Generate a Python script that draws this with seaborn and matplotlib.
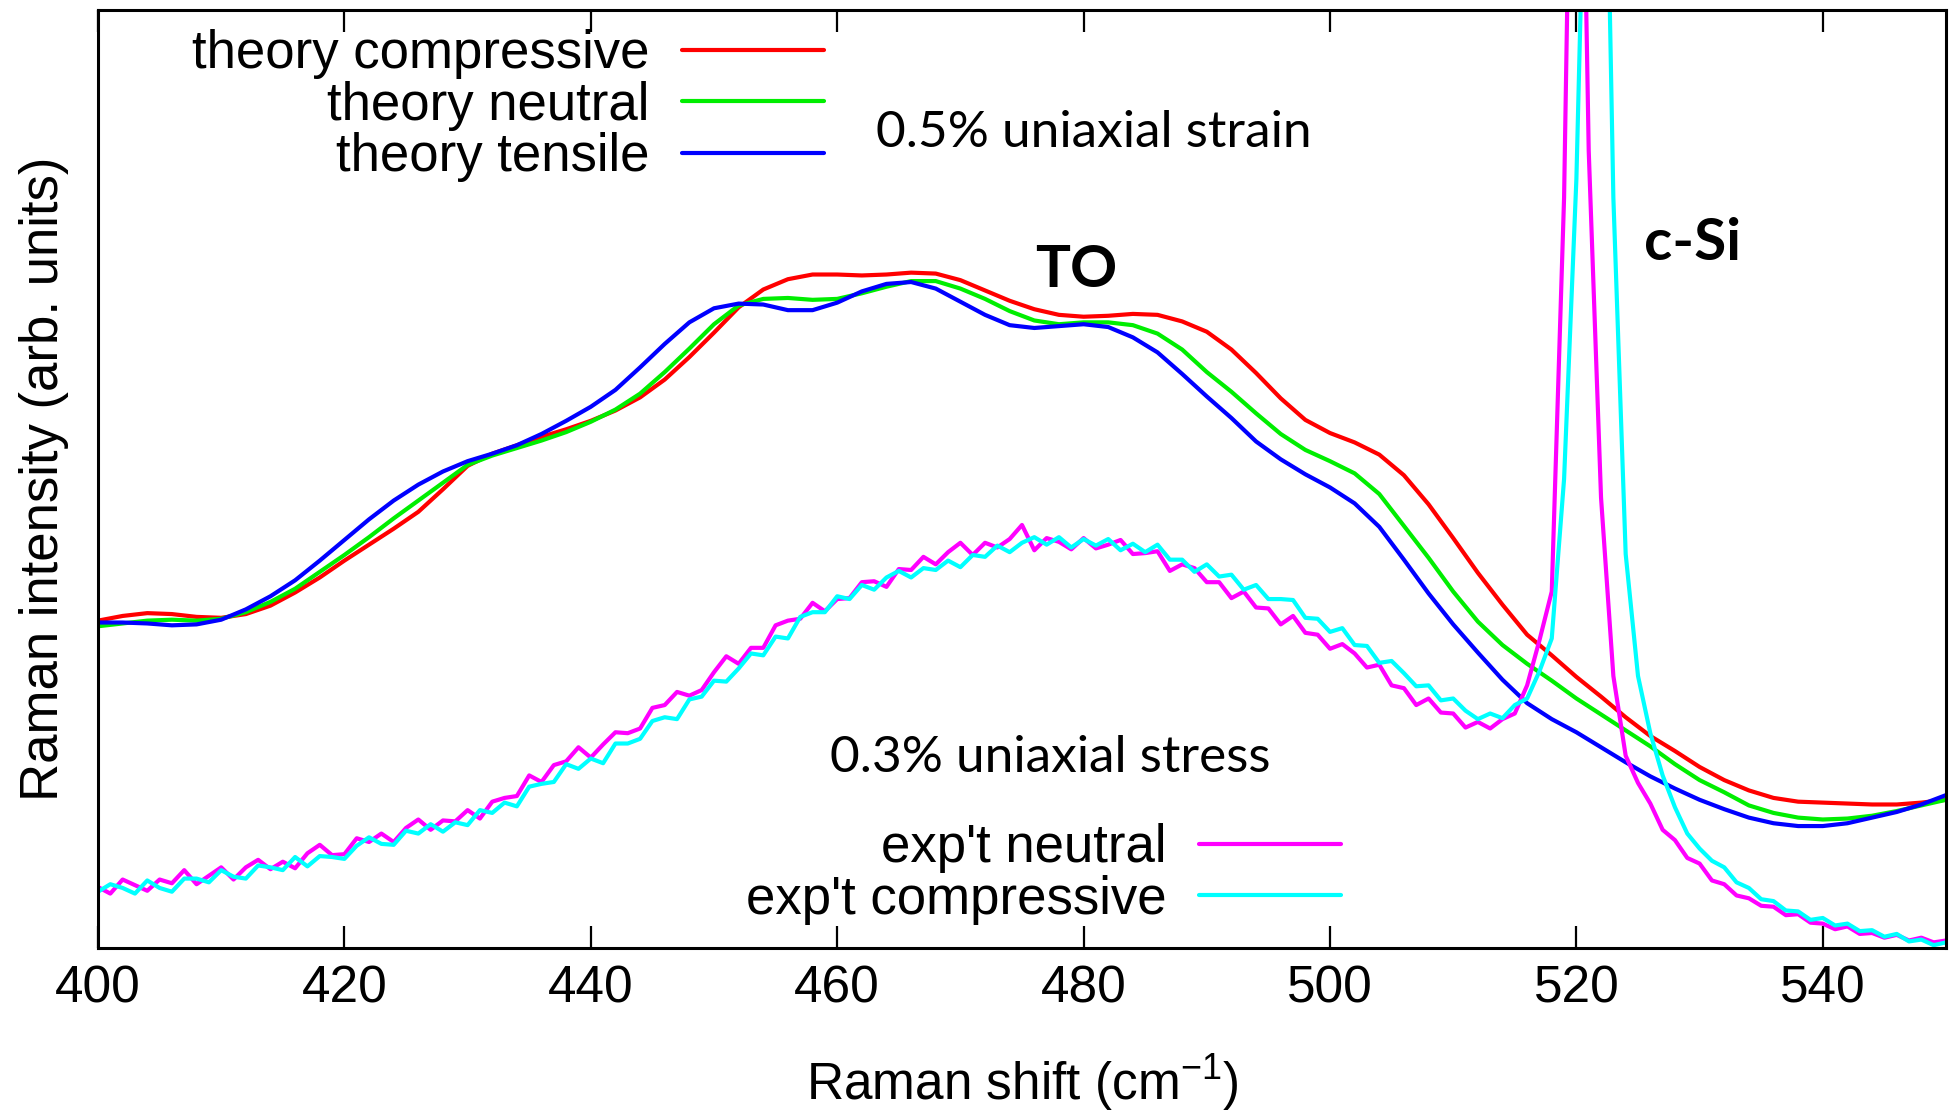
import matplotlib
matplotlib.use("Agg")
import matplotlib.pyplot as plt
import seaborn as sns
import pandas as pd
from matplotlib.lines import Line2D

# ---------------- data ----------------
theory_x = list(range(400, 551, 2))
theory_compressive = [34.9, 35.4, 35.7, 35.6, 35.3, 35.2, 35.6, 36.5, 37.9, 39.5,
                      41.3, 43.0, 44.7, 46.5, 48.9, 51.4, 52.7, 53.6, 54.5, 55.3,
                      56.2, 57.3, 58.7, 60.6, 63.0, 65.6, 68.3, 70.2, 71.3, 71.8,
                      71.8, 71.7, 71.8, 72.0, 71.9, 71.2, 70.1, 69.0, 68.1, 67.5,
                      67.3, 67.4, 67.6, 67.5, 66.8, 65.7, 63.8, 61.3, 58.6, 56.3,
                      54.9, 53.9, 52.6, 50.4, 47.3, 43.7, 40.0, 36.6, 33.4, 31.2,
                      28.9, 26.8, 24.6, 22.6, 21.0, 19.3, 17.9, 16.8, 16.0, 15.6,
                      15.5, 15.4, 15.3, 15.3, 15.5, 15.8]
theory_neutral = [34.3, 34.6, 34.9, 35.0, 34.9, 35.1, 35.8, 36.9, 38.3, 40.1,
                  41.9, 43.8, 45.8, 47.7, 49.6, 51.5, 52.5, 53.3, 54.1, 55.0,
                  56.1, 57.4, 59.1, 61.4, 63.9, 66.5, 68.5, 69.2, 69.3, 69.1,
                  69.2, 69.8, 70.5, 71.1, 71.1, 70.3, 69.2, 67.9, 66.9, 66.5,
                  66.7, 66.7, 66.4, 65.5, 63.8, 61.4, 59.3, 57.0, 54.8, 53.1,
                  51.9, 50.6, 48.4, 45.0, 41.6, 38.0, 34.8, 32.3, 30.3, 28.5,
                  26.6, 24.9, 23.2, 21.5, 19.6, 17.9, 16.6, 15.2, 14.4, 13.9,
                  13.7, 13.8, 14.1, 14.6, 15.2, 15.8]
theory_tensile = [34.7, 34.7, 34.6, 34.4, 34.5, 35.0, 36.1, 37.5, 39.2, 41.3,
                  43.5, 45.7, 47.7, 49.4, 50.8, 51.9, 52.7, 53.6, 54.8, 56.2,
                  57.7, 59.5, 61.9, 64.4, 66.7, 68.2, 68.7, 68.6, 68.0, 68.0,
                  68.8, 70.0, 70.8, 71.0, 70.3, 68.9, 67.5, 66.4, 66.1, 66.3,
                  66.5, 66.2, 65.1, 63.5, 61.2, 58.8, 56.5, 54.0, 52.1, 50.5,
                  49.1, 47.4, 44.9, 41.4, 37.8, 34.5, 31.5, 28.6, 26.1, 24.4,
                  23.0, 21.4, 19.8, 18.3, 17.0, 15.8, 14.8, 13.9, 13.3, 13.0,
                  13.0, 13.3, 13.9, 14.5, 15.3, 16.3]

exp_x = list(range(400, 551))
exp_neutral = [6.5, 5.8, 7.3, 6.7, 6.1, 7.3, 6.9, 8.3, 6.8, 7.7,
               8.6, 7.3, 8.6, 9.4, 8.4, 9.2, 8.5, 10.1, 11.0, 9.9,
               10.0, 11.7, 11.3, 12.2, 11.3, 12.8, 13.7, 12.6, 13.6, 13.5,
               14.7, 13.8, 15.6, 16.0, 16.2, 18.4, 17.7, 19.5, 19.9, 21.4,
               20.3, 21.7, 23.0, 22.9, 23.4, 25.6, 25.9, 27.3, 26.9, 27.5,
               29.4, 31.1, 30.3, 32.0, 32.0, 34.4, 34.9, 35.1, 36.8, 35.9,
               37.2, 37.3, 39.0, 39.1, 38.5, 40.4, 40.3, 41.7, 40.9, 42.2,
               43.2, 41.9, 43.2, 42.7, 43.6, 45.1, 42.4, 43.7, 43.3, 42.5,
               43.7, 42.6, 43.0, 43.5, 42.0, 42.1, 42.3, 40.2, 40.9, 40.5,
               39.0, 39.0, 37.3, 38.0, 36.3, 36.2, 34.5, 35.4, 33.6, 33.4,
               31.9, 32.4, 31.4, 29.9, 30.2, 28.0, 27.7, 25.9, 26.6, 25.1,
               25.0, 23.5, 24.1, 23.4, 24.4, 25.0, 28.0, 32.8, 38.0, 80.0,
               160.0, 85.0, 48.0, 29.0, 20.5, 17.6, 15.4, 12.6, 11.5, 9.6,
               9.0, 7.2, 6.8, 5.6, 5.3, 4.5, 4.4, 3.5, 3.6, 2.7,
               2.6, 2.0, 2.3, 1.5, 1.6, 1.1, 1.4, 0.8, 1.1, 0.6,
               0.8]
exp_compressive = [6.0, 6.8, 6.4, 5.8, 7.2, 6.4, 6.0, 7.4, 7.4, 7.0,
                   8.3, 7.6, 7.4, 8.8, 8.6, 8.3, 9.7, 8.7, 9.8, 9.7,
                   9.5, 10.9, 11.8, 11.1, 11.0, 12.5, 12.2, 13.2, 12.4, 13.4,
                   13.1, 14.7, 14.4, 15.5, 15.1, 17.2, 17.5, 17.7, 19.6, 19.1,
                   20.2, 19.7, 21.8, 21.8, 22.3, 24.2, 24.6, 24.4, 26.5, 26.8,
                   28.5, 28.4, 29.8, 31.4, 31.2, 33.2, 33.0, 35.3, 35.8, 35.8,
                   37.5, 37.2, 38.7, 38.2, 39.5, 40.2, 39.5, 40.5, 40.3, 41.3,
                   40.6, 41.9, 41.7, 42.9, 42.2, 43.2, 43.8, 43.0, 43.8, 42.7,
                   43.6, 42.9, 43.6, 42.4, 43.1, 42.2, 43.0, 41.4, 41.4, 40.1,
                   40.9, 39.6, 39.8, 38.2, 38.7, 37.2, 37.2, 37.1, 35.2, 35.1,
                   33.7, 34.1, 32.3, 32.2, 30.4, 30.6, 29.3, 27.9, 28.0, 26.4,
                   26.6, 25.3, 24.4, 25.0, 24.5, 25.9, 26.6, 29.5, 33.0, 50.0,
                   82.0, 135.0, 150.0, 80.0, 42.0, 29.0, 22.9, 18.4, 15.0, 12.2,
                   10.6, 9.3, 8.6, 7.0, 6.4, 5.2, 5.0, 4.0, 3.9, 3.0,
                   3.2, 2.4, 2.6, 1.8, 1.9, 1.2, 1.5, 0.7, 0.9, 0.3,
                   0.6]

x_ticks = [400, 420, 440, 460, 480, 500, 520, 540]
theory_labels = ["theory compressive", "theory neutral", "theory tensile"]
exp_labels = ["exp't neutral", "exp't compressive"]
theory_colors = ["#ff0000", "#00ee00", "#0000ff"]
exp_colors = ["#ff00ff", "#00ffff"]

# ---------------- style ----------------
sns.set_theme(style="white")
plt.rcParams["font.family"] = ["Liberation Sans", "DejaVu Sans"]
plt.rcParams["mathtext.fontset"] = "custom"
plt.rcParams["mathtext.rm"] = "Liberation Sans"
plt.rcParams["mathtext.it"] = "Liberation Sans"
for k in ["text.color", "axes.labelcolor", "xtick.color", "ytick.color", "axes.edgecolor"]:
    plt.rcParams[k] = "black"
annot_font = ["Lato", "DejaVu Sans"]

W, H = 1959, 1112
fig = plt.figure(figsize=(W / 100, H / 100), dpi=100)
ax = fig.add_axes([98 / W, 1 - 948 / H, (1946 - 98) / W, (948 - 10) / H])

theory_df = pd.DataFrame({"x": theory_x,
                          theory_labels[0]: theory_compressive,
                          theory_labels[1]: theory_neutral,
                          theory_labels[2]: theory_tensile})
exp_df = pd.DataFrame({"x": exp_x,
                       exp_labels[0]: exp_neutral,
                       exp_labels[1]: exp_compressive})

lw = 3.0
for lab, col in zip(theory_labels, theory_colors):
    sns.lineplot(data=theory_df, x="x", y=lab, color=col, lw=lw, ax=ax, legend=False)
for lab, col in zip(exp_labels, exp_colors):
    sns.lineplot(data=exp_df, x="x", y=lab, color=col, lw=lw, ax=ax, legend=False)

ax.set_xlim(400, 550)
ax.set_ylim(0, 100)
ax.set_xticks(x_ticks)
ax.set_yticks([])
ax.tick_params(axis="x", which="both", direction="in", top=True, bottom=True,
               length=16, width=1.6, labelsize=37, pad=12, colors="black")
for sp in ax.spines.values():
    sp.set_linewidth(2.2)
    sp.set_color("black")
    sp.set_visible(True)

ax.set_xlabel("Raman shift (cm$^{-1}$)", fontsize=37, labelpad=28)
ax.set_ylabel("Raman intensity (arb. units)", fontsize=38, labelpad=21)

# legends
h1 = [Line2D([], [], color=c, lw=lw) for c in theory_colors]
leg1 = ax.legend(h1, theory_labels, loc="upper right",
                 bbox_to_anchor=(824 / W, 1 - 29 / H), bbox_transform=fig.transFigure,
                 frameon=False, markerfirst=False, fontsize=38, handlelength=2.7,
                 handletextpad=0.6, labelspacing=0.03, borderpad=0, borderaxespad=0)
ax.add_artist(leg1)
h2 = [Line2D([], [], color=c, lw=lw) for c in exp_colors]
ax.legend(h2, exp_labels, loc="upper right",
          bbox_to_anchor=(1341 / W, 1 - 823 / H), bbox_transform=fig.transFigure,
          frameon=False, markerfirst=False, fontsize=38, handlelength=2.7,
          handletextpad=0.6, labelspacing=0.03, borderpad=0, borderaxespad=0)

# annotations
ax.text(480.8, 85.4, "0.5% uniaxial strain", fontsize=37, family=annot_font,
        ha="center", va="baseline")
ax.text(477.3, 18.8, "0.3% uniaxial stress", fontsize=37, family=annot_font,
        ha="center", va="baseline")
ax.text(479.4, 70.5, "TO", fontsize=42, family=annot_font, fontweight="bold",
        ha="center", va="baseline")
ax.text(529.4, 73.3, "c-Si", fontsize=42, family=annot_font, fontweight="bold",
        ha="center", va="baseline")

fig.savefig("out.png", dpi=100)
